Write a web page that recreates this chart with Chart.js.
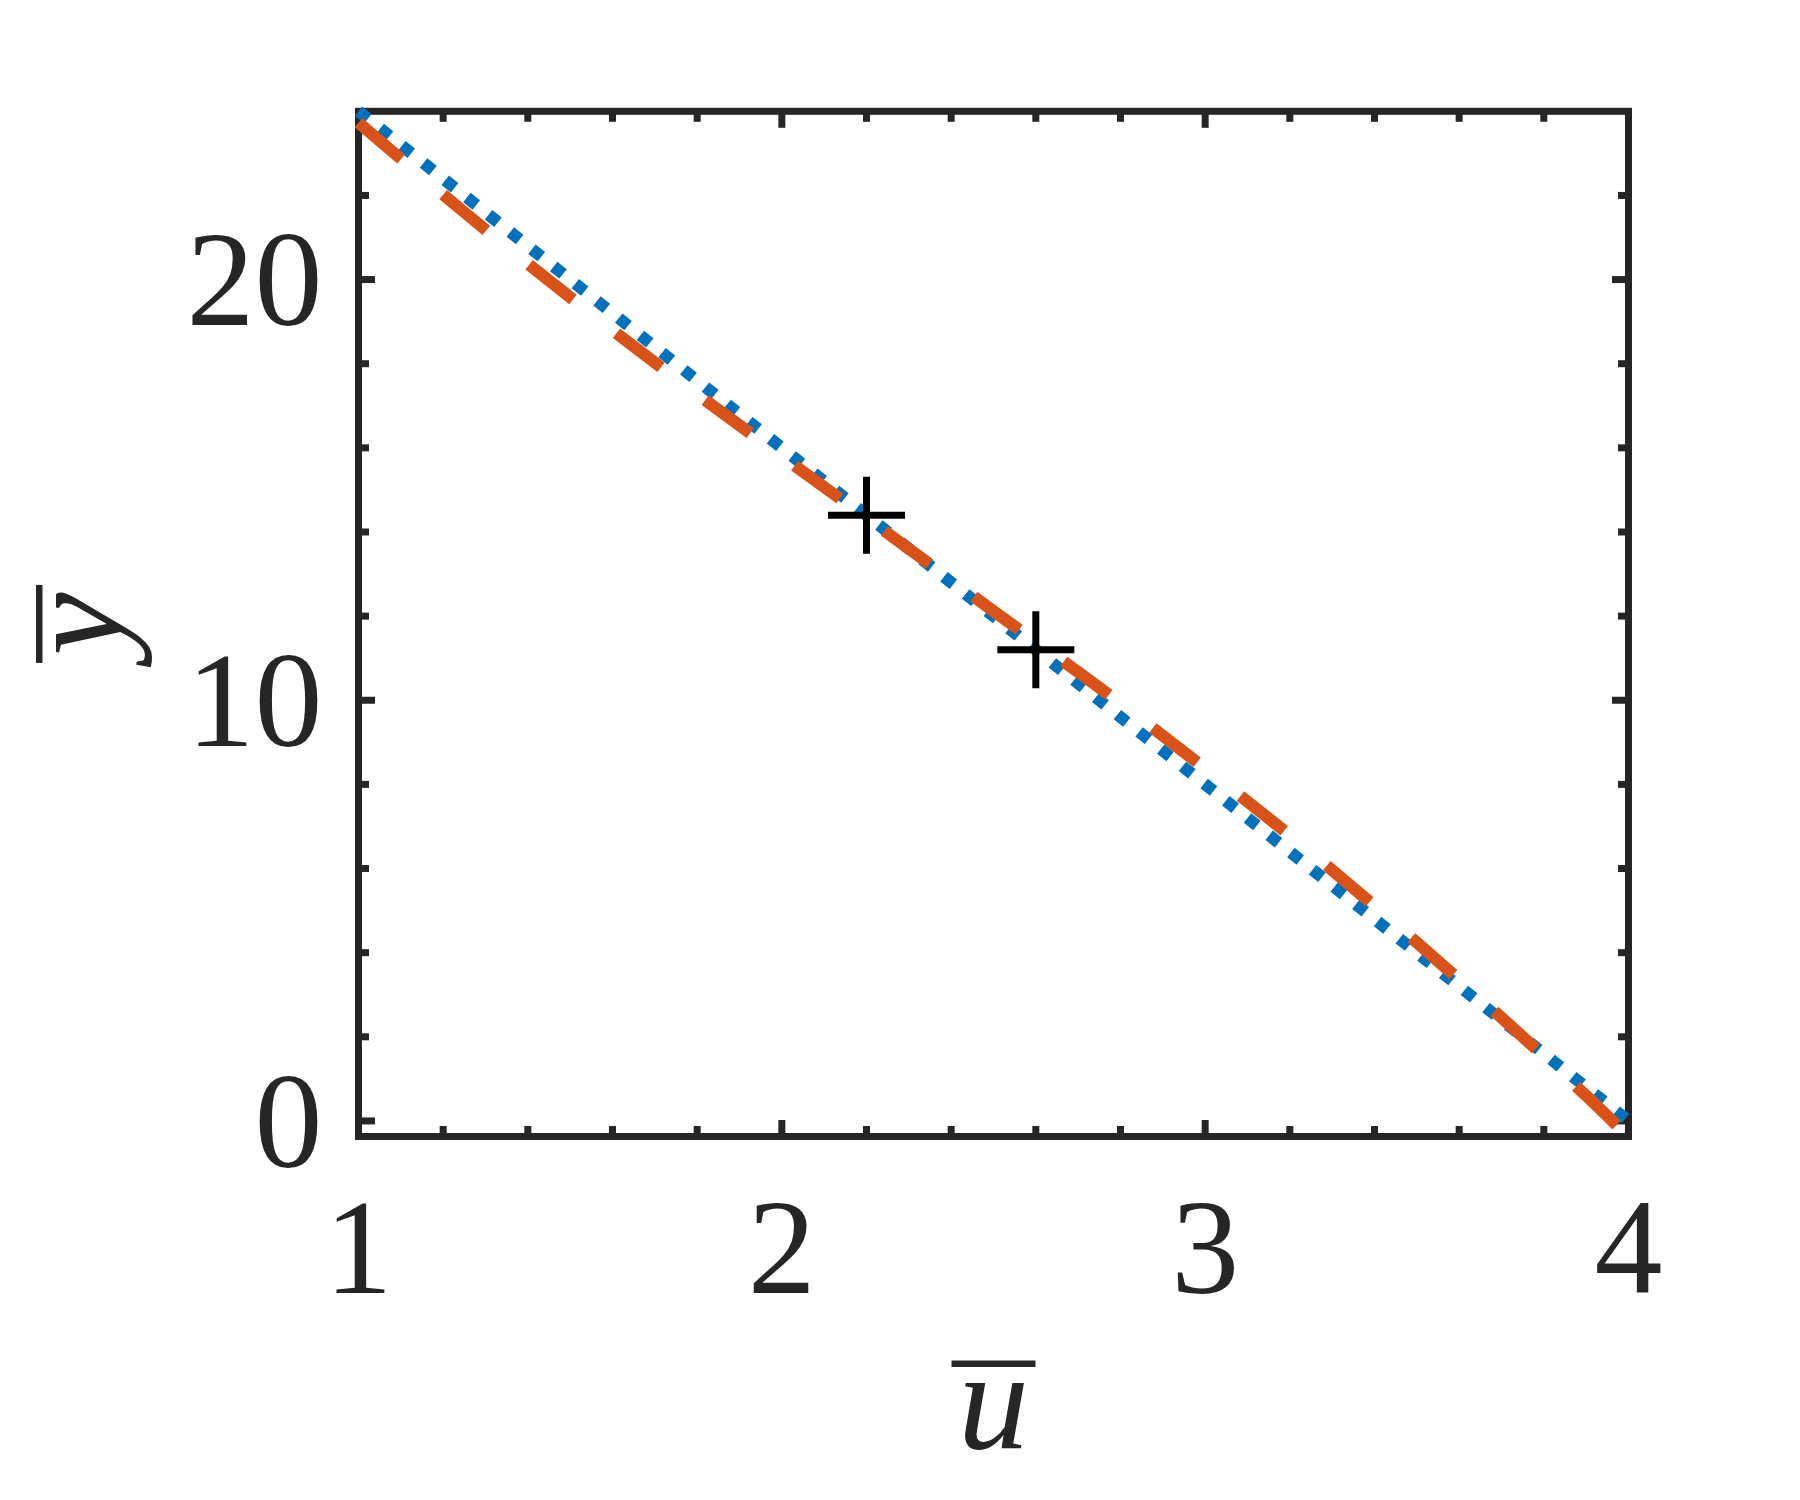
<!DOCTYPE html>
<html>
<head>
<meta charset="utf-8">
<title>u bar vs y bar</title>
<script src="https://cdn.jsdelivr.net/npm/chart.js@4.4.1/dist/chart.umd.min.js"></script>
<style>
  html, body { margin: 0; padding: 0; background: #ffffff; }
  #plot { display: block; }
</style>
</head>
<body>
<canvas id="plot" width="1800" height="1500"></canvas>
<script>
// values
const uDotted = [1, 4];
const yDotted = [24, 0];

const uDashed = [1.0, 1.25, 1.5, 1.75, 2.0, 2.25, 2.5, 2.75, 3.0, 3.25, 3.5, 3.75, 3.9, 4.0];
const yDashed = [23.73, 21.6, 19.58, 17.65, 15.8, 13.97, 12.12, 10.3, 8.38, 6.38, 4.24, 2.0, 0.6, -0.37];

const uMarks = [2.2, 2.6];
const yMarks = [14.4, 11.2];

const xTickValues = [1, 2, 3, 4];
const yTickValues = [0, 10, 20];
const xRange = [1, 4];
const yRange = [-0.37, 24];

const axisColor = "#262626";
const serif = '"Liberation Serif", "Times New Roman", Times, serif';
const tickFont = { family: serif, size: 136, lineHeight: 1 };

function toPoints(xs, ys) {
  return xs.map((x, i) => ({ x: x, y: ys[i] }));
}

// box, inward ticks on all four sides, and the two axis labels
const framePlugin = {
  id: "frame",
  beforeDatasetsDraw(chart) {
    const { ctx, chartArea: a, scales } = chart;
    ctx.save();
    ctx.fillStyle = axisColor;

    for (let i = 0; i <= 15; i++) {
      const px = scales.x.getPixelForValue(xRange[0] + i * 0.2);
      const len = i % 5 === 0 ? 16.5 : 10.5;
      ctx.fillRect(px - 3.5, a.bottom - len, 7, len);
      ctx.fillRect(px - 3.5, a.top, 7, len);
    }
    for (let v = 0; v < yRange[1]; v += 2) {
      const py = scales.y.getPixelForValue(v);
      const len = v % 10 === 0 ? 16.5 : 10.5;
      ctx.fillRect(a.left, py - 3.5, len, 7);
      ctx.fillRect(a.right - len, py - 3.5, len, 7);
    }

    ctx.strokeStyle = axisColor;
    ctx.lineWidth = 7;
    ctx.strokeRect(a.left, a.top, a.right - a.left, a.bottom - a.top);
    ctx.restore();
  },
  afterDraw(chart) {
    const { ctx, chartArea: a } = chart;
    const cx = (a.left + a.right) / 2;
    const cy = (a.top + a.bottom) / 2;
    ctx.save();
    ctx.fillStyle = axisColor;
    ctx.font = "italic 142px " + serif;
    ctx.textAlign = "center";
    ctx.textBaseline = "alphabetic";

    // x label: u with a bar
    const xBase = a.bottom + 311;
    ctx.fillText("u", cx, xBase);
    ctx.fillRect(cx - 42, xBase - 87, 84, 6.5);

    // y label: y with a bar, turned
    const yBase = 122;
    ctx.save();
    ctx.translate(yBase, cy);
    ctx.rotate(-Math.PI / 2);
    ctx.fillText("y", 0, 0);
    ctx.restore();
    ctx.fillRect(yBase - 86, cy - 39, 6.5, 78);
    ctx.restore();
  },
};

function drawChart() {
  new Chart(document.getElementById("plot"), {
    type: "scatter",
    data: {
      datasets: [
        {
          label: "points",
          data: toPoints(uMarks, yMarks),
          showLine: false,
          pointStyle: "cross",
          pointRadius: 38.5,
          pointBorderWidth: 7,
          borderColor: "#000000",
          backgroundColor: "#000000",
          order: 0,
          clip: false,
        },
        {
          label: "dashed",
          data: toPoints(uDashed, yDashed),
          showLine: true,
          borderColor: "#D95319",
          borderWidth: 12,
          borderDash: [56, 55],
          borderCapStyle: "butt",
          cubicInterpolationMode: "monotone",
          pointRadius: 0,
          order: 1,
          clip: false,
        },
        {
          label: "dotted",
          data: toPoints(uDotted, yDotted),
          showLine: true,
          borderColor: "#0072BD",
          borderWidth: 12,
          borderDash: [12, 15.7],
          borderCapStyle: "butt",
          pointRadius: 0,
          order: 2,
          clip: false,
        },
      ],
    },
    options: {
      responsive: false,
      animation: false,
      devicePixelRatio: 1,
      layout: { padding: { left: 0, top: 111.3, right: 171.5, bottom: 0 } },
      plugins: {
        legend: { display: false },
        tooltip: { enabled: false },
      },
      scales: {
        x: {
          type: "linear",
          min: xRange[0],
          max: xRange[1],
          afterFit: (s) => { s.height = 363.5; },
          afterBuildTicks: (s) => { s.ticks = xTickValues.map((v) => ({ value: v })); },
          grid: { display: false, drawTicks: false },
          border: { display: false },
          ticks: { font: tickFont, color: axisColor, padding: 52.5, maxRotation: 0, autoSkip: false },
        },
        y: {
          type: "linear",
          min: yRange[0],
          max: yRange[1],
          afterFit: (s) => { s.width = 358.5; },
          afterBuildTicks: (s) => { s.ticks = yTickValues.map((v) => ({ value: v })); },
          grid: { display: false, drawTicks: false },
          border: { display: false },
          ticks: { font: tickFont, color: axisColor, padding: 36, labelOffset: 10, autoSkip: false },
        },
      },
    },
    plugins: [framePlugin],
  });
}

// make sure the serif faces are ready before the canvas is painted
Promise.all([
  document.fonts.load('136px "Liberation Serif"'),
  document.fonts.load('italic 142px "Liberation Serif"'),
]).catch(() => null).then(drawChart);
</script>
</body>
</html>
